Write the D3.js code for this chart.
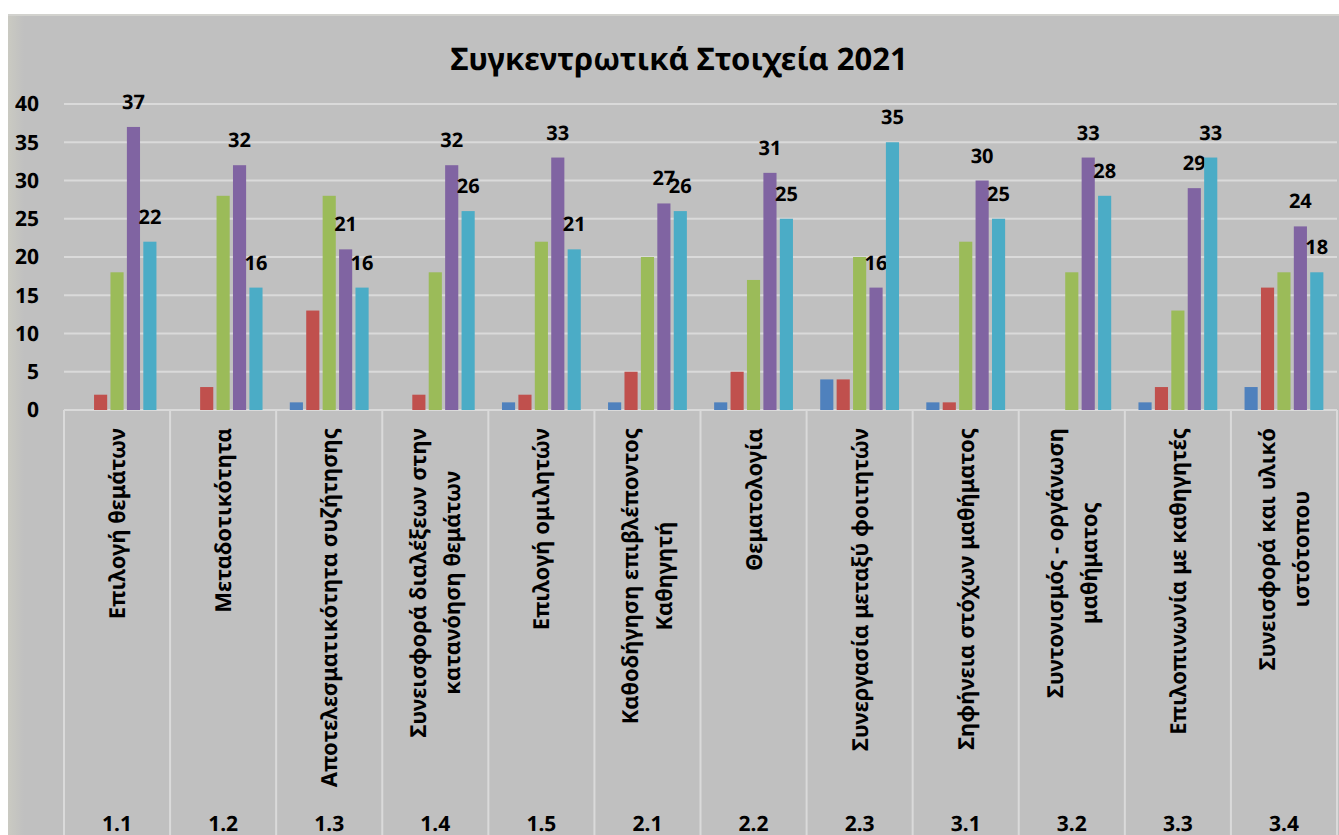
<!DOCTYPE html>
<html>
<head>
<meta charset="utf-8">
<script src="https://cdn.jsdelivr.net/npm/d3@7"></script>
<style>
  body { margin: 0; background: #fff; }
  text { font-family: "Noto Sans", "Open Sans", sans-serif; font-weight: bold; fill: #000; text-rendering: geometricPrecision; }
</style>
</head>
<body>
<svg id="chart" width="1339" height="835"></svg>
<script>
// categories (code + rotated label lines)
const codes = ["1.1", "1.2", "1.3", "1.4", "1.5", "2.1", "2.2", "2.3", "3.1", "3.2", "3.3", "3.4"];
const catLabels = [
  ["Επιλογή θεμάτων"],
  ["Μεταδοτικότητα"],
  ["Αποτελεσματικότητα συζήτησης"],
  ["Συνεισφορά διαλέξεων στην", "κατανόηση θεμάτων"],
  ["Επιλογή ομιλητών"],
  ["Καθοδήγηση επιβλέποντος", "Καθηγητή"],
  ["Θεματολογία"],
  ["Συνεργασία μεταξύ φοιτητών"],
  ["Σηφήνεια στόχων μαθήματος"],
  ["Συντονισμός - οργάνωση", "μαθήματος"],
  ["Επιλοπινωνία με καθηγητές"],
  ["Συνεισφορά και υλικό", "ιστότοπου"]
];

// series values
const series1 = [0, 0, 1, 0, 1, 1, 1, 4, 1, 0, 1, 3];
const series2 = [2, 3, 13, 2, 2, 5, 5, 4, 1, 0, 3, 16];
const series3 = [18, 28, 28, 18, 22, 20, 17, 20, 22, 18, 13, 18];
const series4 = [37, 32, 21, 32, 33, 27, 31, 16, 30, 33, 29, 24];
const series5 = [22, 16, 16, 26, 21, 26, 25, 35, 25, 28, 33, 18];
const seriesNames = ["Σειρά 1", "Σειρά 2", "Σειρά 3", "Σειρά 4", "Σειρά 5"];
const colors = ["#4f81bd", "#c0504d", "#9bbb59", "#8064a2", "#4bacc6"];
const labelled = [false, false, false, true, true]; // only last two series show data labels
const yTicks = [0, 5, 10, 15, 20, 25, 30, 35, 40];

const allSeries = [series1, series2, series3, series4, series5];

const svg = d3.select('#chart');

// chart background
const defs = svg.append('defs');
const grad = defs.append('linearGradient').attr('id', 'leftEdge');
grad.append('stop').attr('offset', '0%').attr('stop-color', '#cacac2');
grad.append('stop').attr('offset', '100%').attr('stop-color', '#c0c0c0');

svg.append('rect')
  .attr('x', 8).attr('y', 14).attr('width', 1331).attr('height', 821)
  .attr('fill', '#c0c0c0');
svg.append('rect')
  .attr('x', 8).attr('y', 14).attr('width', 16).attr('height', 821)
  .attr('fill', 'url(#leftEdge)');
svg.append('line')
  .attr('x1', 8).attr('x2', 1339).attr('y1', 15).attr('y2', 15)
  .attr('stroke', '#d2d2ce').attr('stroke-width', 2);

// scales
const x0 = d3.scaleBand().domain(codes).range([64, 1337]);
const x1 = d3.scaleBand().domain(seriesNames).range([0, x0.bandwidth()])
  .paddingInner(0.2).paddingOuter(0.83);
const y = d3.scaleLinear().domain([0, 40]).range([410, 104]);

// title
svg.append('text')
  .attr('x', 679).attr('y', 70)
  .attr('text-anchor', 'middle')
  .style('font-size', '31px')
  .text('Συγκεντρωτικά Στοιχεία 2021');

// gridlines
svg.append('g').selectAll('line')
  .data(yTicks)
  .join('line')
  .attr('x1', 64).attr('x2', 1337)
  .attr('y1', d => y(d)).attr('y2', d => y(d))
  .attr('stroke', '#dadada').attr('stroke-width', 2);

// y axis labels
svg.append('g').selectAll('text')
  .data(yTicks)
  .join('text')
  .attr('x', 39).attr('y', d => y(d))
  .attr('dy', '0.35em')
  .attr('text-anchor', 'end')
  .style('font-size', '21px')
  .text(d => d);

// category separators
const bounds = codes.map(c => x0(c)).concat([x0.range()[1]]);
svg.append('g').selectAll('line')
  .data(bounds)
  .join('line')
  .attr('x1', d => d).attr('x2', d => d)
  .attr('y1', 410).attr('y2', 835)
  .attr('stroke', '#dadada').attr('stroke-width', 2);

// bars
const groups = svg.append('g').selectAll('g')
  .data(codes)
  .join('g')
  .attr('transform', c => `translate(${x0(c)},0)`);

allSeries.forEach((vals, si) => {
  groups.append('rect')
    .attr('x', x1(seriesNames[si]))
    .attr('width', x1.bandwidth())
    .attr('y', (c, i) => y(vals[i]))
    .attr('height', (c, i) => y(0) - y(vals[i]))
    .attr('fill', colors[si]);
  if (labelled[si]) {
    groups.append('text')
      .attr('x', x1(seriesNames[si]) + x1.bandwidth() / 2)
      .attr('y', (c, i) => y(vals[i]) - 18)
      .attr('text-anchor', 'middle')
      .style('font-size', '20px')
      .text((c, i) => vals[i]);
  }
});

// rotated category labels
const lineGap = 34;
codes.forEach((c, i) => {
  const cx = x0(c) + x0.bandwidth() / 2;
  const lines = catLabels[i];
  const g = svg.append('g');
  const texts = lines.map((t, li) => g.append('text')
    .attr('text-anchor', 'middle')
    .style('font-size', '22px')
    .text(t));
  const maxLen = d3.max(texts, t => t.node().getComputedTextLength());
  const cy = 428 + maxLen / 2;
  texts.forEach((t, li) => {
    const bx = cx + 8 + (li - (lines.length - 1) / 2) * lineGap;
    t.attr('transform', `translate(${bx},${cy}) rotate(-90)`);
  });
});

// category codes at the bottom
svg.append('g').selectAll('text')
  .data(codes)
  .join('text')
  .attr('x', c => x0(c) + x0.bandwidth() / 2)
  .attr('y', 831)
  .attr('text-anchor', 'middle')
  .style('font-size', '21px')
  .text(c => c);
</script>
</body>
</html>
